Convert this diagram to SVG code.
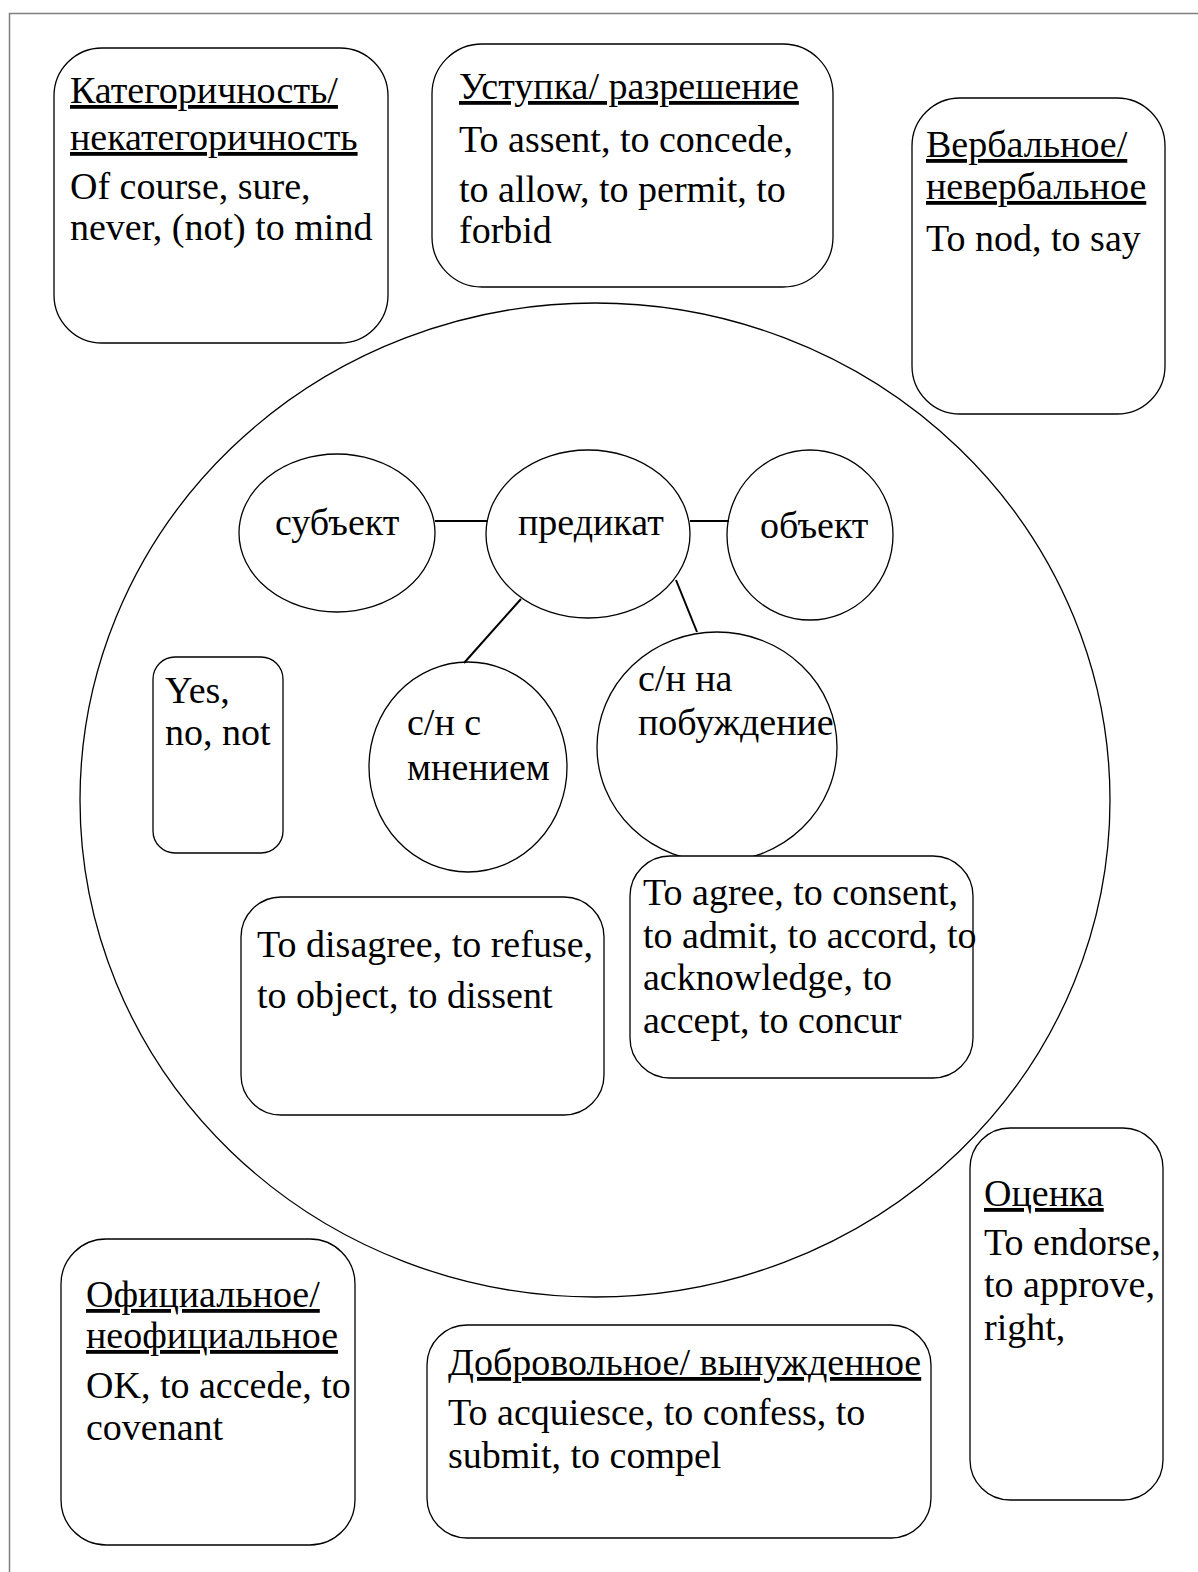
<svg xmlns="http://www.w3.org/2000/svg" width="1198" height="1572" viewBox="0 0 1198 1572">
<style>
  .box { fill: #fff; stroke: #000; stroke-width: 1.3; }
  .ell { fill: #fff; stroke: #000; stroke-width: 1.3; }
  .big { fill: none; stroke: #000; stroke-width: 1.3; }
  .t { font-family: "Liberation Serif", "Times New Roman", serif; font-size: 38px; fill: #000; }
  .u { text-decoration: underline; }
  .conn line { stroke: #000; stroke-width: 2; }
</style>
<rect width="1198" height="1572" fill="#fff"/>
<path d="M9.5,1572 V13.5 H1198" fill="none" stroke="#808080" stroke-width="1.5"/>

<g id="frame-circle"><ellipse class="big" cx="595" cy="800" rx="515" ry="497"/></g>

<g id="box-kategorichnost">
  <rect class="box" x="54" y="48" width="334" height="295" rx="48"/>
  <text class="t"><tspan class="u" x="70" y="103">Категоричность/</tspan><tspan class="u" x="70" y="150">некатегоричность</tspan><tspan x="70" y="199">Of course, sure,</tspan><tspan x="70" y="240">never, (not) to mind</tspan></text>
</g>

<g id="box-ustupka">
  <rect class="box" x="432" y="44" width="401" height="243" rx="50"/>
  <text class="t"><tspan class="u" x="459" y="99">Уступка/ разрешение</tspan><tspan x="459" y="152">To assent, to concede,</tspan><tspan x="459" y="202">to allow, to permit, to</tspan><tspan x="459" y="243">forbid</tspan></text>
</g>

<g id="box-verbalnoe">
  <rect class="box" x="912" y="98" width="253" height="316" rx="48"/>
  <text class="t"><tspan class="u" x="926" y="157">Вербальное/</tspan><tspan class="u" x="926" y="199">невербальное</tspan><tspan x="926" y="251">To nod, to say</tspan></text>
</g>

<g id="node-subject">
  <ellipse class="ell" cx="337" cy="533" rx="98" ry="79"/>
  <text class="t" x="275" y="535">субъект</text>
</g>
<g id="node-predicate">
  <ellipse class="ell" cx="588" cy="534" rx="102" ry="84"/>
  <text class="t" x="518" y="535">предикат</text>
</g>
<g id="node-object">
  <ellipse class="ell" cx="810" cy="535" rx="83" ry="85"/>
  <text class="t" x="760" y="538">объект</text>
</g>
<g id="node-mnenie">
  <ellipse class="ell" cx="468" cy="767" rx="99" ry="105"/>
  <text class="t"><tspan x="407" y="735">с/н с</tspan><tspan x="407" y="780">мнением</tspan></text>
</g>
<g id="node-pobuzhdenie">
  <ellipse class="ell" cx="717" cy="747" rx="120" ry="115"/>
  <text class="t"><tspan x="638" y="691">с/н на</tspan><tspan x="638" y="735">побуждение</tspan></text>
</g>

<g id="connectors" class="conn">
  <line x1="435" y1="521" x2="488" y2="521"/>
  <line x1="690" y1="521" x2="729" y2="521"/>
  <line x1="521" y1="599" x2="464" y2="663"/>
  <line x1="676" y1="580" x2="697" y2="632"/>
</g>

<g id="box-yes">
  <rect class="box" x="153" y="657" width="130" height="196" rx="22"/>
  <text class="t"><tspan x="165" y="703">Yes,</tspan><tspan x="165" y="745">no, not</tspan></text>
</g>

<g id="box-disagree">
  <rect class="box" x="241" y="897" width="363" height="218" rx="40"/>
  <text class="t"><tspan x="257" y="957">To disagree, to refuse,</tspan><tspan x="257" y="1008">to object, to dissent</tspan></text>
</g>

<g id="box-agree">
  <rect class="box" x="630" y="856" width="343" height="222" rx="40"/>
  <text class="t"><tspan x="643" y="905">To agree, to consent,</tspan><tspan x="643" y="948">to admit, to accord, to</tspan><tspan x="643" y="990">acknowledge, to</tspan><tspan x="643" y="1033">accept, to concur</tspan></text>
</g>

<g id="box-ofitsialnoe">
  <rect class="box" x="61" y="1239" width="294" height="306" rx="45"/>
  <text class="t"><tspan class="u" x="86" y="1307">Официальное/</tspan><tspan class="u" x="86" y="1348">неофициальное</tspan><tspan x="86" y="1398">OK, to accede, to</tspan><tspan x="86" y="1440">covenant</tspan></text>
</g>

<g id="box-dobrovolnoe">
  <rect class="box" x="427" y="1325" width="504" height="213" rx="40"/>
  <text class="t"><tspan class="u" x="448" y="1375">Добровольное/ вынужденное</tspan><tspan x="448" y="1425">To acquiesce, to confess, to</tspan><tspan x="448" y="1468">submit, to compel</tspan></text>
</g>

<g id="box-otsenka">
  <rect class="box" x="970" y="1128" width="193" height="372" rx="40"/>
  <text class="t"><tspan class="u" x="984" y="1206">Оценка</tspan><tspan x="984" y="1255">To endorse,</tspan><tspan x="984" y="1297">to approve,</tspan><tspan x="984" y="1340">right,</tspan></text>
</g>
</svg>
